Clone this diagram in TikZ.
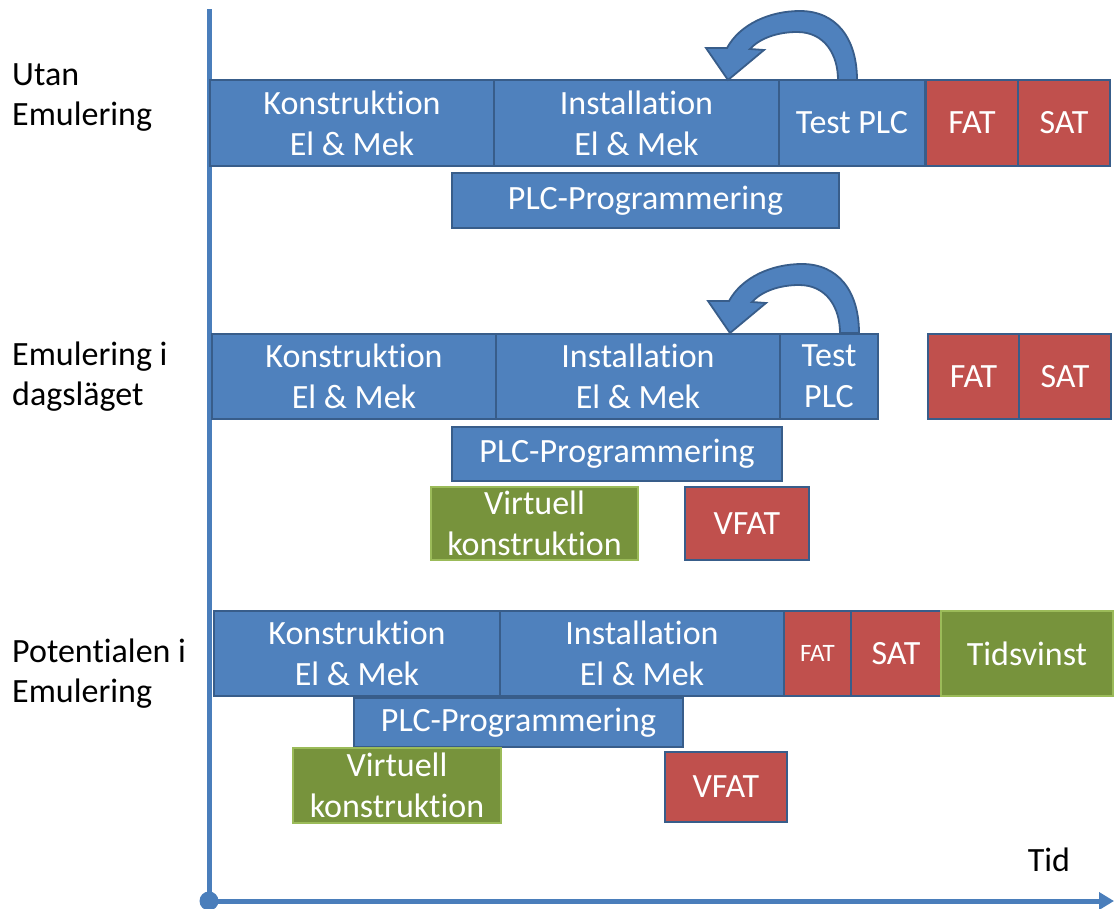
\documentclass[tikz,border=0pt]{standalone}
\usepackage{fontspec}
\setmainfont[RawFeature={-liga;-clig;-calt;-dlig}]{Carlito}
\usetikzlibrary{arrows.meta}
\definecolor{boxblue}{HTML}{4F81BD}
\definecolor{edgeblue}{HTML}{385D8A}
\definecolor{boxred}{HTML}{C0504D}
\definecolor{boxgreen}{HTML}{77933C}
\definecolor{edgegreen}{HTML}{9BBB59}
\definecolor{axisblue}{HTML}{4A7EBB}
\tikzset{
  cell/.style={rectangle, inner sep=0pt, align=center, text=white, line width=2.6pt,
    font=\fontsize{34}{41}\selectfont},
  bluebox/.style={cell, fill=boxblue, draw=edgeblue},
  redbox/.style={cell, fill=boxred, draw=edgeblue},
  greenbox/.style={cell, fill=boxgreen, draw=edgegreen},
  rowlabel/.style={anchor=west, align=left, inner sep=0pt, font=\fontsize{34}{40}\selectfont},
  axisline/.style={draw=axisblue, line width=5pt},
  loop arrow/.pic={
    \filldraw[fill=boxblue, draw=edgeblue, line width=1.8pt, line join=miter]
      (129,0) .. controls (129,-42) and (108,-69) .. (72,-69)
      .. controls (42,-69) and (12,-56) .. (-1,-32)
      -- (-22,-32) -- (0,0) -- (36,-30) -- (22,-31)
      .. controls (32,-42) and (50,-48) .. (69,-48)
      .. controls (97,-48) and (110,-25) .. (110,0) -- cycle;
  }
}
\begin{document}
\begin{tikzpicture}[x=1pt, y=-1pt]
\useasboundingbox (0,0) rectangle (1115,908);

% time axes
\coordinate (ytop) at (209,9);
\coordinate (orig) at (209,901);
\coordinate (xend) at (1114,901);
\draw[axisline] (ytop) -- (orig);
\draw[axisline, -{Triangle[length=15pt,width=17pt]}] (orig) -- (xend);
\fill[axisblue] (orig) circle (9.5);
\node[font=\fontsize{34}{40}\selectfont, inner sep=0pt] (tid) at (1049,860) {Tid};

% row labels
\node[rowlabel] (lab1) at (12,98) {Utan\\Emulering};
\node[rowlabel] (lab2) at (12,377) {Emulering i\\dagsläget};
\node[rowlabel] (lab3) at (12,674) {Potentialen i\\Emulering};

% row 1: without emulation
\node[bluebox, minimum width=284, minimum height=86] (k1) at (352,123) {Konstruktion\\El \& Mek};
\node[bluebox, minimum width=285, minimum height=86] (i1) at (636.5,123) {Installation\\El \& Mek};
\node[bluebox, minimum width=146, minimum height=86] (t1) at (852,123) {Test PLC};
\node[redbox, minimum width=92, minimum height=86] (f1) at (972,123) {FAT};
\node[redbox, minimum width=92, minimum height=86] (s1) at (1064,123) {SAT};
\node[bluebox, minimum width=387, minimum height=55] (p1) at (645.5,200.5) {PLC-Programmering};
\pic at (728,80) {loop arrow};

% row 2: emulation today
\node[bluebox, minimum width=284, minimum height=85] (k2) at (354,376.5) {Konstruktion\\El \& Mek};
\node[bluebox, minimum width=284, minimum height=85] (i2) at (638,376.5) {Installation\\El \& Mek};
\node[bluebox, minimum width=98, minimum height=85] (t2) at (829,376.5) {Test\\PLC};
\node[redbox, minimum width=91, minimum height=85] (f2) at (973.5,376.5) {FAT};
\node[redbox, minimum width=92, minimum height=85] (s2) at (1065,376.5) {SAT};
\node[bluebox, minimum width=330, minimum height=54] (p2) at (617,454) {PLC-Programmering};
\node[greenbox, minimum width=207, minimum height=73] (v2) at (534.5,523.5) {Virtuell\\konstruktion};
\node[redbox, minimum width=124, minimum height=73] (vf2) at (747,523.5) {VFAT};
\pic at (730,333) {loop arrow};

% row 3: the potential of emulation
\node[bluebox, minimum width=286, minimum height=85] (k3) at (357,653.5) {Konstruktion\\El \& Mek};
\node[bluebox, minimum width=284, minimum height=85] (i3) at (642,653.5) {Installation\\El \& Mek};
\node[redbox, minimum width=67, minimum height=85, font=\fontsize{25}{30}\selectfont] (f3) at (817.5,653.5) {FAT};
\node[redbox, minimum width=90, minimum height=85] (s3) at (896,653.5) {SAT};
\node[greenbox, minimum width=172, minimum height=85] (g3) at (1027,653.5) {Tidsvinst};
\node[bluebox, minimum width=329, minimum height=49] (p3) at (518.5,722.5) {PLC-Programmering};
\node[greenbox, minimum width=208, minimum height=75] (v3) at (397,785.5) {Virtuell\\konstruktion};
\node[redbox, minimum width=122, minimum height=70] (vf3) at (726,787) {VFAT};
\end{tikzpicture}
\end{document}
